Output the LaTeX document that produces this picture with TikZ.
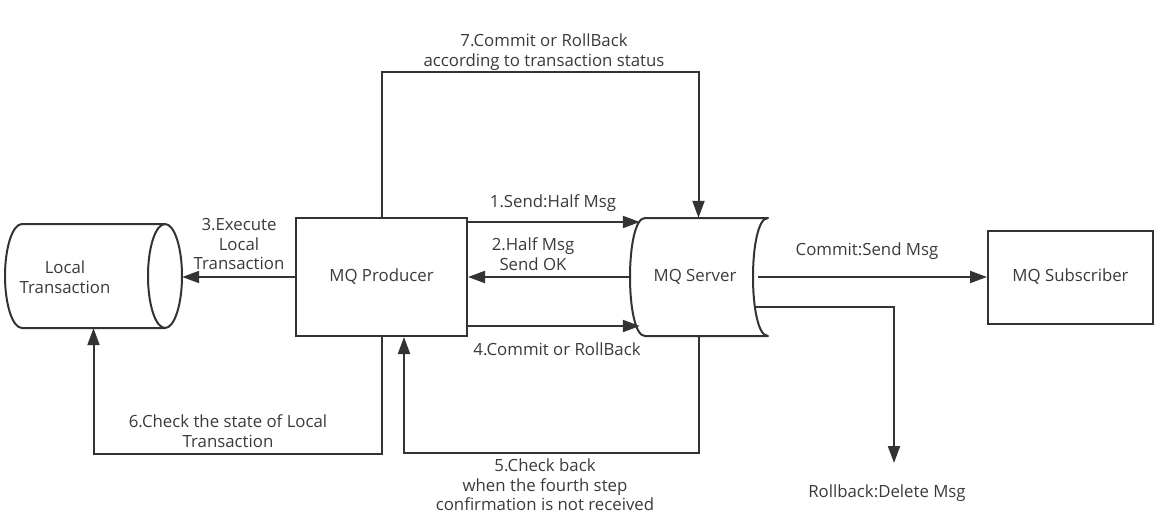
\documentclass[tikz,border=0pt]{standalone}
\usepackage{fontspec}
\setmainfont{Open Sans}
\usetikzlibrary{arrows.meta}
\definecolor{ink}{HTML}{333333}
\definecolor{txt}{HTML}{3A3A3A}
\begin{document}
\begin{tikzpicture}[x=1pt,y=-1pt,
  every node/.style={font=\fontsize{16.8}{19.5}\selectfont, text=txt},
  shapeline/.style={draw=ink, line width=2pt, line join=round},
  conn/.style={draw=ink, line width=2pt, -{Triangle[length=17pt,width=12pt]}},
  lbl/.style={align=center, inner sep=0pt},
  box/.style={draw=ink, line width=2pt, inner sep=0pt},
  ghost/.style={inner sep=0pt}
]
\useasboundingbox (0,0) rectangle (1162,516);

% nodes
\node[box, minimum width=171pt, minimum height=118pt] (prod) at (381.5,277) {MQ Producer};
\node[box, minimum width=165pt, minimum height=93pt] (sub) at (1070.5,277) {MQ Subscriber};
\node[ghost, minimum width=139pt, minimum height=118pt] (srv) at (698.5,277) {};
\node[ghost] (srvt) at (695,277) {MQ Server};
\node[ghost, minimum width=177pt, minimum height=104pt] (lt) at (93.5,276) {};
\node[lbl] (ltt) at (65,277) {Local\\Transaction};

% cylinder (Local Transaction)
\draw[shapeline] (165,224) -- (22,224) arc[start angle=-90,end angle=-270,x radius=17,y radius=52] -- (165,328);
\draw[shapeline] (165,276) ellipse[x radius=17,y radius=52];

% data storage (MQ Server)
\draw[shapeline] (645,218) -- (768,218) .. controls (748,218) and (748,336) .. (768,336)
  -- (645,336) .. controls (625,336) and (625,218) .. (645,218) -- cycle;

% connectors
\draw[conn] ([yshift=55pt]prod.east) -- ([xshift=11pt,yshift=55pt]srv.west);
\draw[conn] (srv.west) -- (prod.east);
\draw[conn] (prod.west) -- (prod.west -| lt.east);
\draw[conn] ([yshift=-49pt]prod.east) -- ([xshift=11pt,yshift=-49pt]srv.west);
\draw[conn] (srv.south) -- ++(0,116.5) -| ([xshift=22.5pt]prod.south);
\draw[conn] (prod.south) -- ++(0,116.5) -| (lt.south);
\draw[conn] (prod.north) -- ++(0,-145) -| (srv.north);
\draw[conn] ([xshift=-10pt]srv.east) -- (sub.west);
\coordinate (rbend) at (894,463);
\draw[conn] ([xshift=-14pt,yshift=-30pt]srv.east) -| (rbend);

% labels
\node[lbl] (l1) at (553,203) {1.Send:Half Msg};
\node[lbl] (l2) at (533,254) {2.Half Msg\\Send OK};
\node[lbl] (l3) at (239,244) {3.Execute\\Local\\Transaction};
\node[lbl] (l4) at (557,349) {4.Commit or RollBack};
\node[lbl] (l5) at (545,485) {5.Check back\\when the fourth step\\confirmation is not received};
\node[lbl] (l6) at (228,431) {6.Check the state of Local\\Transaction};
\node[lbl] (l7) at (544,52) {7.Commit or RollBack\\according to transaction status};
\node[lbl] (lc) at (867,251) {Commit:Send Msg};
\node[lbl] (lr) at (887,493) {Rollback:Delete Msg};
\end{tikzpicture}
\end{document}
